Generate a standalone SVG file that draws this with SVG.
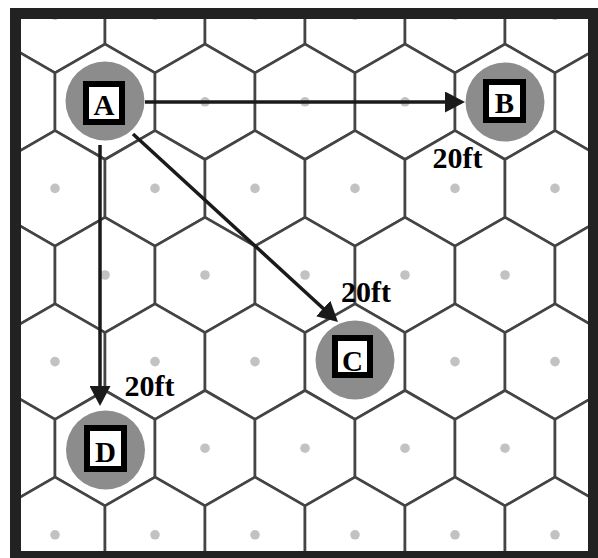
<svg xmlns="http://www.w3.org/2000/svg" xmlns:xlink="http://www.w3.org/1999/xlink" width="598" height="558" viewBox="0 0 598 558">
<style>
.hex{fill:#ffffff;stroke:#444444;stroke-width:2.6;stroke-linejoin:round}
.dot{fill:#c2c2c2}
.token{fill:#8c8c8c}
.box{fill:#ffffff;stroke:#000000;stroke-width:6}
.letter{font-weight:bold;font-size:29px;fill:#000000;text-anchor:middle}
.dist{font-weight:bold;font-size:30px;fill:#000000;text-anchor:middle}
.arrow{stroke:#1a1a1a;stroke-width:3.5;fill:none;marker-end:url(#head)}
</style>
<defs>
<g id="cell">
<path class="hex" d="M0,-57.7 L50,-28.9 L50,28.9 L0,57.7 L-50,28.9 L-50,-28.9 Z"/>
<circle class="dot" cx="0" cy="0" r="4.8"/>
</g>
<marker id="head" viewBox="0 0 20 21" refX="10" refY="10.5" markerWidth="20" markerHeight="21" markerUnits="userSpaceOnUse" orient="auto">
<path d="M0,0 L20,10.5 L0,21 Z" fill="#1a1a1a"/>
</marker>
<clipPath id="inner"><rect x="21" y="19" width="567" height="532"/></clipPath>
</defs>
<rect x="0" y="0" width="598" height="558" fill="#ffffff"/>
<g id="grid" clip-path="url(#inner)">
<rect x="21" y="19" width="567" height="532" fill="#ffffff"/>
<use href="#cell" x="55" y="15.2"/><use href="#cell" x="155" y="15.2"/><use href="#cell" x="255" y="15.2"/><use href="#cell" x="355" y="15.2"/><use href="#cell" x="455" y="15.2"/><use href="#cell" x="555" y="15.2"/>
<use href="#cell" x="5" y="101.8"/><use href="#cell" x="105" y="101.8"/><use href="#cell" x="205" y="101.8"/><use href="#cell" x="305" y="101.8"/><use href="#cell" x="405" y="101.8"/><use href="#cell" x="505" y="101.8"/><use href="#cell" x="605" y="101.8"/>
<use href="#cell" x="55" y="188.4"/><use href="#cell" x="155" y="188.4"/><use href="#cell" x="255" y="188.4"/><use href="#cell" x="355" y="188.4"/><use href="#cell" x="455" y="188.4"/><use href="#cell" x="555" y="188.4"/>
<use href="#cell" x="5" y="275"/><use href="#cell" x="105" y="275"/><use href="#cell" x="205" y="275"/><use href="#cell" x="305" y="275"/><use href="#cell" x="405" y="275"/><use href="#cell" x="505" y="275"/><use href="#cell" x="605" y="275"/>
<use href="#cell" x="55" y="361.6"/><use href="#cell" x="155" y="361.6"/><use href="#cell" x="255" y="361.6"/><use href="#cell" x="355" y="361.6"/><use href="#cell" x="455" y="361.6"/><use href="#cell" x="555" y="361.6"/>
<use href="#cell" x="5" y="448.2"/><use href="#cell" x="105" y="448.2"/><use href="#cell" x="205" y="448.2"/><use href="#cell" x="305" y="448.2"/><use href="#cell" x="405" y="448.2"/><use href="#cell" x="505" y="448.2"/><use href="#cell" x="605" y="448.2"/>
<use href="#cell" x="55" y="534.8"/><use href="#cell" x="155" y="534.8"/><use href="#cell" x="255" y="534.8"/><use href="#cell" x="355" y="534.8"/><use href="#cell" x="455" y="534.8"/><use href="#cell" x="555" y="534.8"/>
</g>
<rect id="frame" x="15.5" y="13.5" width="578" height="543" fill="none" stroke="#222222" stroke-width="11"/>
<g id="connectors">
<line class="arrow" x1="145" y1="102" x2="455" y2="102"/>
<line class="arrow" x1="133" y1="134" x2="330.6" y2="315.2"/>
<line class="arrow" x1="100" y1="145" x2="100" y2="396"/>
</g>
<g id="A">
<circle class="token" cx="105" cy="101" r="39.5"/>
<rect class="box" x="86" y="84" width="36" height="38"/>
<text class="letter" x="104" y="115" font-family="Liberation Serif, DejaVu Serif, serif">A</text>
</g>
<g id="B">
<circle class="token" cx="505" cy="102" r="39.5"/>
<rect class="box" x="486" y="82" width="37" height="38"/>
<text class="letter" x="504.5" y="113" font-family="Liberation Serif, DejaVu Serif, serif">B</text>
</g>
<g id="C">
<circle class="token" cx="355" cy="360" r="39.5"/>
<rect class="box" x="335" y="338" width="35" height="37"/>
<text class="letter" x="352.5" y="371" font-family="Liberation Serif, DejaVu Serif, serif">C</text>
</g>
<g id="D">
<circle class="token" cx="105.5" cy="450" r="39.5"/>
<rect class="box" x="87" y="428" width="37" height="41"/>
<text class="letter" x="105.5" y="462" font-family="Liberation Serif, DejaVu Serif, serif">D</text>
</g>
<g id="labels">
<text class="dist" x="457.5" y="168" font-family="Liberation Serif, DejaVu Serif, serif">20ft</text>
<text class="dist" x="366" y="302" font-family="Liberation Serif, DejaVu Serif, serif">20ft</text>
<text class="dist" x="149.5" y="396" font-family="Liberation Serif, DejaVu Serif, serif">20ft</text>
</g>
</svg>
